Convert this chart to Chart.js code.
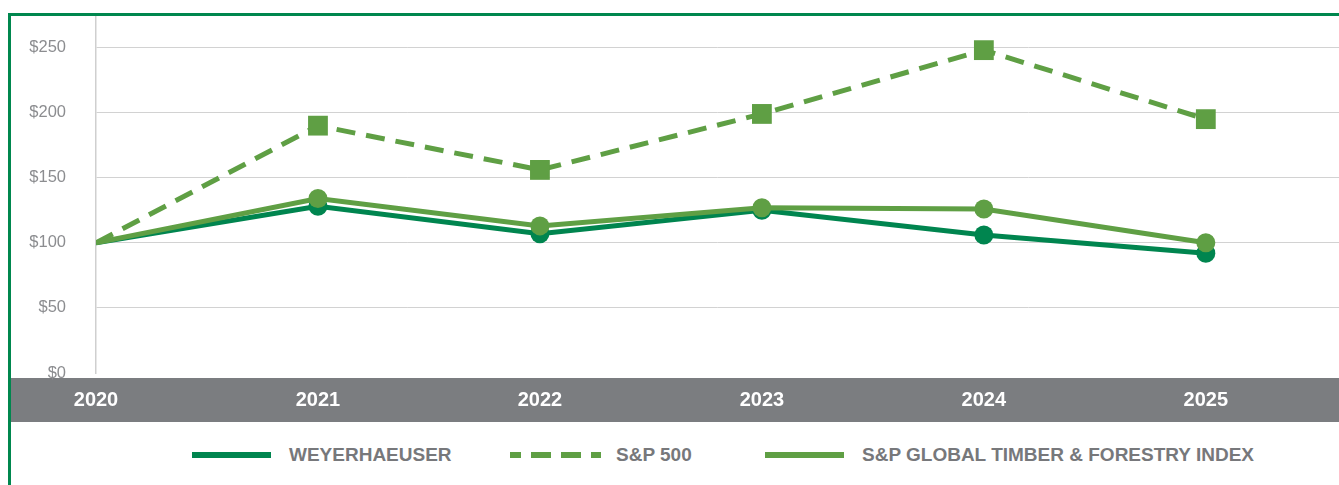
<!DOCTYPE html>
<html lang="en">
<head>
  <meta charset="UTF-8" />
  <title>Total Shareholder Return</title>
  <script src="https://cdn.jsdelivr.net/npm/chart.js"></script>
  <style>
    body {
      margin: 0;
      width: 1339px;
      height: 485px;
      overflow: hidden;
      background: #fff;
      position: relative;
      font-family: 'Liberation Sans', Arial, sans-serif;
    }

    .frame {
      position: absolute;
      left: 8px;
      top: 13px;
      width: 1400px;
      height: 500px;
      border-left: 3px solid #00874e;
      border-top: 3px solid #00874e;
      z-index: 2;
      pointer-events: none;
    }

    .chart-box {
      position: absolute;
      left: 0;
      top: 0;
      width: 1353px;
      height: 430px;
    }

    .legend {
      position: absolute;
      left: 0;
      top: 443px;
      width: 1339px;
      height: 24px;
      font-weight: bold;
      font-size: 19px;
      color: #77787b;
      white-space: nowrap;
    }

    .legend .item {
      position: absolute;
      top: 0;
      height: 24px;
      display: flex;
      align-items: center;
    }

    .legend .item:nth-child(1) { left: 192px; }
    .legend .item:nth-child(2) { left: 510px; }
    .legend .item:nth-child(3) { left: 765px; }

    .legend .swatch {
      width: 79px;
      height: 6px;
      margin-right: 18px;
    }
  </style>
</head>
<body>
  <div class="frame"></div>
  <div class="chart-box">
    <canvas id="tsrChart" width="1353" height="430"></canvas>
  </div>
  <div class="legend" id="legend"></div>

  <script>
    const years = ['2020', '2021', '2022', '2023', '2024', '2025'];
    const yTicks = [0, 50, 100, 150, 200, 250];

    const weyerhaeuser = [100, 128, 107, 125, 106, 92];
    const sp500 = [100, 190, 156, 199, 248, 195];
    const timberIndex = [100, 134, 113, 127, 126, 100];

    const darkGreen = '#00854f';
    const lightGreen = '#5f9f44';

    const toPoints = values => values.map((v, i) => ({ x: i, y: v }));

    // gray band behind the year labels
    const bandPlugin = {
      id: 'band',
      beforeDraw(chart) {
        const ctx = chart.ctx;
        ctx.save();
        ctx.fillStyle = '#7b7d80';
        ctx.fillRect(10, chart.chartArea.bottom + 5, chart.width - 10, 44);
        ctx.restore();
      }
    };

    const chart = new Chart(document.getElementById('tsrChart'), {
      type: 'line',
      data: {
        datasets: [
          {
            label: 'WEYERHAEUSER',
            data: toPoints(weyerhaeuser),
            borderColor: darkGreen,
            backgroundColor: darkGreen,
            borderWidth: 5,
            pointStyle: 'circle',
            pointRadius: weyerhaeuser.map((v, i) => i === 0 ? 0 : 9.5),
            pointBorderWidth: 0,
            order: 2
          },
          {
            label: 'S&P 500',
            data: toPoints(sp500),
            borderColor: lightGreen,
            backgroundColor: lightGreen,
            borderWidth: 5,
            borderDash: [19, 11],
            pointStyle: 'rect',
            pointRadius: sp500.map((v, i) => i === 0 ? 0 : 14),
            pointBorderWidth: 0,
            order: 1
          },
          {
            label: 'S&P GLOBAL TIMBER & FORESTRY INDEX',
            data: toPoints(timberIndex),
            borderColor: lightGreen,
            backgroundColor: lightGreen,
            borderWidth: 5,
            pointStyle: 'circle',
            pointRadius: timberIndex.map((v, i) => i === 0 ? 0 : 9.5),
            pointBorderWidth: 0,
            order: 0
          }
        ]
      },
      options: {
        responsive: false,
        animation: false,
        layout: {
          padding: { top: 15, left: 10, right: 0, bottom: 0 }
        },
        plugins: {
          legend: { display: false },
          tooltip: { enabled: false }
        },
        scales: {
          x: {
            type: 'linear',
            min: 0,
            max: 5.6,
            afterFit: axis => {
              axis.height = 57;
              axis.paddingLeft = 0;
              axis.paddingRight = 0;
            },
            afterBuildTicks: axis => {
              axis.ticks = years.map((y, i) => ({ value: i }));
            },
            ticks: {
              autoSkip: false,
              maxRotation: 0,
              padding: 15,
              color: '#ffffff',
              font: { family: "'Liberation Sans', Arial, sans-serif", size: 20, weight: 'bold' },
              callback: v => years[v] ?? ''
            },
            grid: { display: false, drawTicks: false },
            border: { display: false }
          },
          y: {
            min: 0,
            max: 275,
            afterFit: axis => {
              axis.width = 86;
              axis.paddingTop = 0;
              axis.paddingBottom = 0;
            },
            afterBuildTicks: axis => {
              axis.ticks = yTicks.map(v => ({ value: v }));
            },
            ticks: {
              padding: 30,
              color: '#8c8d90',
              font: { family: "'Liberation Sans', Arial, sans-serif", size: 16.5 },
              callback: v => '$' + v
            },
            grid: {
              drawTicks: false,
              lineWidth: 1,
              color: ctx => ctx.tick && ctx.tick.value === 0 ? 'rgba(0,0,0,0)' : '#d2d2d2'
            },
            border: { display: true, color: '#cfcfcf', width: 1.5 }
          }
        }
      },
      plugins: [bandPlugin]
    });

    // html legend built from the datasets
    const legendEl = document.getElementById('legend');
    chart.data.datasets.forEach(ds => {
      const item = document.createElement('div');
      item.className = 'item';
      const sw = document.createElement('div');
      sw.className = 'swatch';
      if (ds.borderDash) {
        sw.style.width = '91px';
        sw.style.marginRight = '15px';
        sw.style.background = 'repeating-linear-gradient(90deg, ' + ds.borderColor + ' 0 20px, transparent 20px 30px)';
        sw.style.backgroundPosition = '-9px 0';
      } else {
        sw.style.background = ds.borderColor;
      }
      const txt = document.createElement('span');
      txt.textContent = ds.label;
      item.appendChild(sw);
      item.appendChild(txt);
      legendEl.appendChild(item);
    });
  </script>
</body>
</html>
